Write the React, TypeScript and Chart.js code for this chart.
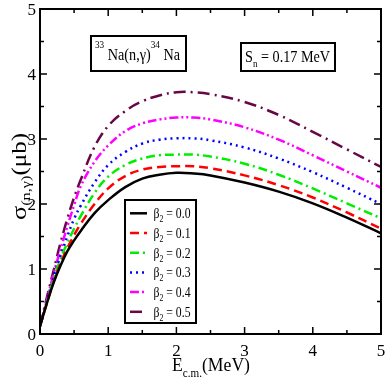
import React, { useEffect, useRef } from "react";
import { Chart, registerables } from "chart.js";

Chart.register(...registerables);

const energies = [0, 0.1, 0.2, 0.3, 0.4, 0.5, 0.6, 0.8, 1.0, 1.25, 1.5, 1.75, 2.0, 2.25, 2.5, 3.0, 3.5, 4.0, 4.5, 5.0];
const beta00 = [0.12, 0.47, 0.79, 1.05, 1.27, 1.44, 1.59, 1.86, 2.06, 2.26, 2.39, 2.45, 2.48, 2.47, 2.44, 2.33, 2.19, 2.01, 1.79, 1.55];
const beta01 = [0.12, 0.47, 0.8, 1.08, 1.32, 1.52, 1.7, 2.0, 2.24, 2.43, 2.53, 2.57, 2.58, 2.58, 2.55, 2.44, 2.29, 2.1, 1.87, 1.62];
const beta02 = [0.12, 0.48, 0.84, 1.15, 1.4, 1.62, 1.82, 2.17, 2.42, 2.6, 2.7, 2.75, 2.76, 2.76, 2.73, 2.62, 2.45, 2.24, 2.01, 1.78];
const beta03 = [0.12, 0.5, 0.88, 1.2, 1.5, 1.77, 1.98, 2.33, 2.6, 2.8, 2.93, 2.99, 3.01, 3.01, 2.98, 2.87, 2.7, 2.49, 2.25, 2.0];
const beta04 = [0.12, 0.52, 0.93, 1.3, 1.65, 1.98, 2.28, 2.65, 2.9, 3.12, 3.24, 3.3, 3.33, 3.33, 3.3, 3.18, 2.99, 2.75, 2.5, 2.25];
const beta05 = [0.12, 0.56, 0.98, 1.4, 1.77, 2.1, 2.38, 2.88, 3.2, 3.43, 3.58, 3.67, 3.72, 3.72, 3.69, 3.57, 3.37, 3.11, 2.84, 2.57];

const legendLabels = ["0.0", "0.1", "0.2", "0.3", "0.4", "0.5"];
const xTicks = [0, 1, 2, 3, 4, 5];
const yTicks = [0, 1, 2, 3, 4, 5];

const seriesList = [beta00, beta01, beta02, beta03, beta04, beta05];
const colors = ["#000000", "#ff0000", "#00ee00", "#0000ff", "#ff00ff", "#670748"];
const dashes: number[][] = [
  [],
  [9, 5],
  [9, 4, 2, 4],
  [2, 4],
  [9, 3, 2, 3, 2, 3],
  [12, 5, 2, 5],
];

const SERIF = '"Liberation Serif", "DejaVu Serif", serif';

type Seg = { t: string; size: number; dy?: number };

function runsWidth(ctx: CanvasRenderingContext2D, segs: Seg[]) {
  let w = 0;
  for (const s of segs) {
    ctx.font = `${s.size}px ${SERIF}`;
    w += ctx.measureText(s.t).width;
  }
  return w;
}
// draw text runs starting at (x,y); if target width is given, compress horizontally to fit
function drawRuns(ctx: CanvasRenderingContext2D, segs: Seg[], x: number, y: number, target?: number) {
  const w = runsWidth(ctx, segs);
  const sx = target ? target / w : 1;
  ctx.save();
  ctx.translate(x, y);
  ctx.scale(sx, 1);
  let cx = 0;
  for (const s of segs) {
    ctx.font = `${s.size}px ${SERIF}`;
    ctx.fillText(s.t, cx, s.dy || 0);
    cx += ctx.measureText(s.t).width;
  }
  ctx.restore();
}

const decorPlugin = {
  id: "decor",
  afterDraw(chart: any) {
    const ctx: CanvasRenderingContext2D = chart.ctx;
    const { left, right, top, bottom } = chart.chartArea;
    const xs = chart.scales.x;
    const ys = chart.scales.y;
    ctx.save();
    ctx.strokeStyle = "#000";
    ctx.fillStyle = "#000";
    ctx.setLineDash([]);
    ctx.textAlign = "left";
    ctx.textBaseline = "alphabetic";
    // frame
    ctx.lineWidth = 2;
    ctx.strokeRect(left, top, right - left, bottom - top);
    // ticks
    ctx.lineWidth = 1.5;
    for (let v = 0; v <= 5.0001; v += 0.5) {
      const major = Math.abs(v - Math.round(v)) < 1e-6;
      const len = major ? 7 : 4;
      const px = xs.getPixelForValue(v);
      ctx.beginPath();
      ctx.moveTo(px, bottom);
      ctx.lineTo(px, bottom - len);
      ctx.moveTo(px, top);
      ctx.lineTo(px, top + len);
      ctx.stroke();
      const py = ys.getPixelForValue(v);
      ctx.beginPath();
      ctx.moveTo(left, py);
      ctx.lineTo(left + len, py);
      ctx.moveTo(right, py);
      ctx.lineTo(right - len, py);
      ctx.stroke();
    }
    // tick labels
    ctx.font = `17px ${SERIF}`;
    ctx.textAlign = "center";
    for (const v of xTicks) {
      ctx.fillText(String(v), xs.getPixelForValue(v), bottom + 22);
    }
    ctx.textAlign = "right";
    for (const v of yTicks) {
      ctx.fillText(String(v), left - 4, ys.getPixelForValue(v) + 6);
    }
    ctx.textAlign = "left";
    // x title
    drawRuns(
      ctx,
      [
        { t: "E", size: 19 },
        { t: "c.m.", size: 12, dy: 6 },
        { t: "(MeV)", size: 19 },
      ],
      172,
      bottom + 37,
      78
    );
    // y title
    ctx.save();
    ctx.translate(26, 177);
    ctx.rotate(-Math.PI / 2);
    drawRuns(
      ctx,
      [
        { t: "σ", size: 21 },
        { t: "(n,γ)", size: 13, dy: 4 },
        { t: "(μb)", size: 20 },
      ],
      -43,
      0,
      87
    );
    ctx.restore();

    // annotation box 1
    ctx.lineWidth = 2;
    ctx.fillStyle = "#fff";
    ctx.fillRect(91, 36, 95, 35);
    ctx.strokeRect(91, 36, 95, 35);
    ctx.fillStyle = "#000";
    drawRuns(
      ctx,
      [
        { t: "33", size: 11, dy: -12 },
        { t: " Na(n,γ)", size: 17 },
        { t: "34", size: 11, dy: -12 },
        { t: " Na", size: 17 },
      ],
      95,
      59.5,
      85
    );
    // annotation box 2
    ctx.fillStyle = "#fff";
    ctx.fillRect(241, 43, 94, 28);
    ctx.strokeRect(241, 43, 94, 28);
    ctx.fillStyle = "#000";
    drawRuns(
      ctx,
      [
        { t: "S", size: 17 },
        { t: "n", size: 11, dy: 5 },
        { t: " = 0.17 MeV", size: 17 },
      ],
      245,
      61.5,
      85
    );

    // legend
    ctx.lineWidth = 2;
    ctx.fillStyle = "#fff";
    ctx.fillRect(125, 200, 71, 123);
    ctx.strokeRect(125, 200, 71, 123);
    chart.data.datasets.forEach((ds: any, i: number) => {
      const y = 213.3 + i * 19.7;
      ctx.save();
      ctx.strokeStyle = ds.borderColor;
      ctx.lineWidth = 2.5;
      ctx.setLineDash(ds.borderDash || []);
      ctx.beginPath();
      ctx.moveTo(130, y);
      ctx.lineTo(147, y);
      ctx.stroke();
      ctx.restore();
      ctx.fillStyle = "#000";
      drawRuns(
        ctx,
        [
          { t: "β", size: 15 },
          { t: "2", size: 10, dy: 4 },
          { t: " = " + legendLabels[i], size: 15 },
        ],
        153.5,
        y + 5,
        37
      );
    });
    ctx.restore();
  },
};

export default function App() {
  const ref = useRef<HTMLCanvasElement | null>(null);
  useEffect(() => {
    document.body.style.margin = "0";
    const canvas = ref.current;
    if (!canvas) return;
    const chart = new Chart(canvas, {
      type: "line",
      data: {
        datasets: seriesList.map((s, i) => ({
          label: "β2 = " + legendLabels[i],
          data: energies.map((e, k) => ({ x: e, y: s[k] })),
          borderColor: colors[i],
          borderDash: dashes[i],
          borderWidth: 2.5,
          pointRadius: 0,
          fill: false,
          tension: 0.4,
        })),
      },
      options: {
        animation: false,
        responsive: false,
        maintainAspectRatio: false,
        layout: { padding: { left: 40, top: 9, right: 5, bottom: 49 } },
        plugins: { legend: { display: false }, tooltip: { enabled: false } },
        scales: {
          x: { type: "linear", min: 0, max: 5, display: false },
          y: { type: "linear", min: 0, max: 5, display: false },
        },
      },
      plugins: [decorPlugin],
    } as any);
    return () => chart.destroy();
  }, []);
  return <canvas ref={ref} width={386} height={383} style={{ display: "block", width: 386, height: 383 }} />;
}
